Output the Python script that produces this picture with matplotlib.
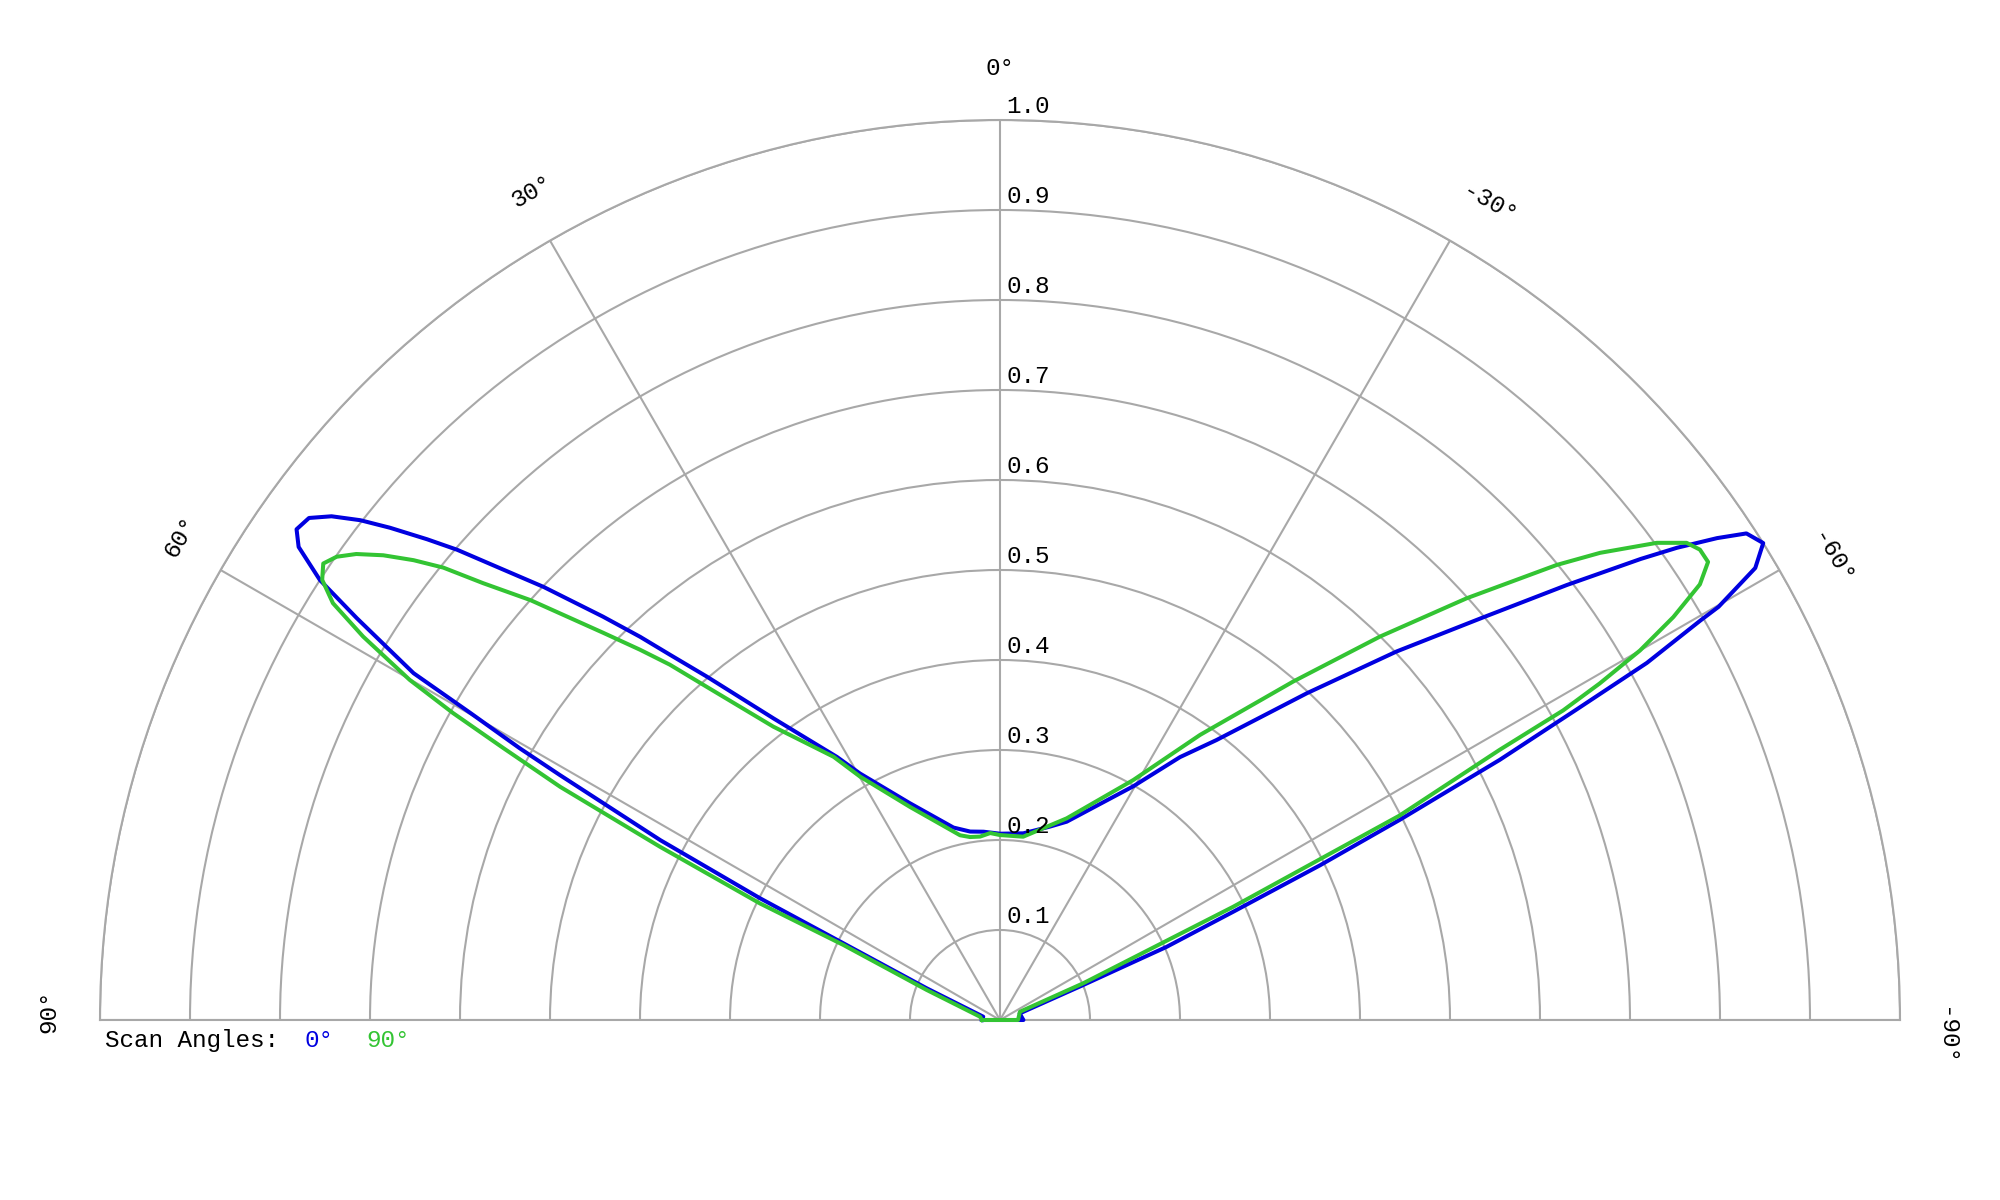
import numpy as np
import matplotlib
matplotlib.use("Agg")
import matplotlib.pyplot as plt

plt.rcParams['font.family'] = ['Liberation Mono', 'DejaVu Sans Mono']

# Scan angle 0 deg (blue): pattern angle (deg, + to the left) and normalised amplitude
theta_0 = [90, 78.8, 66.6, 63.9, 63.1, 62.1, 60.9, 60.5, 59.9, 59.4, 58.0, 57.1, 56.0, 55.1,
           54.0, 53.0, 52.0, 51.1, 50.0, 49.1, 47.8, 46.5, 44.55, 43.2, 42.1, 40.5, 36.9,
           31.8, 29.6, 22.6, 13.6, 9.0, 5.0, 0, -7.1, -14.5, -18.6, -29.7, -34.4, -37.7,
           -43.2, -47.1, -50.2, -52.5, -54.26, -55.1, -56.1, -56.9, -58.0, -59.1,
           -60.1, -60.3, -61.1, -61.7, -62.5, -63.4, -64.2, -65.1, -66.3, -67.2, -71.5, -90]
r_0 = [0.020, 0.019, 0.089, 0.194, 0.299, 0.427, 0.560, 0.613, 0.680, 0.757, 0.843, 0.900,
       0.940, 0.953, 0.949, 0.930, 0.902, 0.871, 0.831, 0.798, 0.745, 0.699, 0.629, 0.584,
       0.547, 0.502, 0.419, 0.344, 0.315, 0.261, 0.220, 0.212, 0.210, 0.207, 0.209, 0.222,
       0.2325, 0.299, 0.354, 0.393, 0.498, 0.6015, 0.699, 0.794, 0.877, 0.917, 0.960,
       0.990, 1.000, 0.978, 0.921, 0.896, 0.821, 0.727, 0.626, 0.497, 0.395, 0.286, 0.202,
       0.100, 0.023, 0.026]

# Scan angle 90 deg (green)
theta_90 = [90, 80.6, 67.7, 64.4, 64.1, 63.0, 62.07, 61.3, 60.7, 60.05, 58.95, 58.0, 57.0,
            56.0, 55.07, 54.1, 53.0, 51.9, 50.9, 49.8, 48.2, 45.7, 44.2, 42.9, 41.35, 37.7,
            32.3, 29.9, 22.9, 12.2, 9.3, 6.2, 3.0, 0, -7.2, -18.3, -29.05, -35.06, -40.9,
            -44.75, -47.9, -50.74, -52.1, -54.0, -55.2, -56.1, -57.1, -58.1,
            -59.1, -60.0, -60.7, -61.2, -61.6, -62.9, -64.1, -66.2, -67.5, -90]
r_90 = [0.020, 0.0225, 0.088, 0.193, 0.2965, 0.424, 0.553, 0.629, 0.697, 0.757, 0.826, 0.874,
        0.898, 0.907, 0.899, 0.883, 0.858, 0.828, 0.797, 0.752, 0.700, 0.616, 0.574, 0.539,
        0.493, 0.412, 0.346, 0.312, 0.257, 0.210, 0.206, 0.205, 0.208, 0.2055, 0.2053, 0.236,
        0.305, 0.387, 0.4975, 0.600, 0.699, 0.799, 0.845, 0.902, 0.929, 0.937,
        0.937, 0.916, 0.872, 0.821, 0.764, 0.714, 0.631, 0.499, 0.288, 0.101, 0.024, 0.020]

r_ticks = [0.1, 0.2, 0.3, 0.4, 0.5, 0.6, 0.7, 0.8, 0.9, 1.0]
r_tick_labels = ['0.1', '0.2', '0.3', '0.4', '0.5', '0.6', '0.7', '0.8', '0.9', '1.0']
theta_ticks = [90, 60, 30, 0, -30, -60, -90]
theta_tick_labels = ['90°', '60°', '30°', '0°', '-30°', '-60°', '-90°']

legend_title = 'Scan Angles:'
series_labels = ['0°', '90°']

BLUE = '#0000e0'
GREEN = '#33c433'
GRID = '#a8a8a8'
FS = 17.5

W, H = 2000, 1200
fig = plt.figure(figsize=(20, 12), dpi=100)
ax = fig.add_axes([0.05, -0.225, 0.90, 1.5], projection='polar')
ax.set_theta_zero_location('N')
ax.set_theta_direction(1)
ax.set_thetamin(-90)
ax.set_thetamax(90)
ax.set_ylim(0, 1.0)

# place the wedge: centre at (1000, 1020) px from top-left, radius 900 px
target_cx, target_cy, target_R = 1000.0, H - 1020.0, 900.0
for _ in range(3):
    fig.canvas.draw()
    c = ax.transData.transform((0, 0))
    t = ax.transData.transform((0, 1.0))
    R = np.hypot(*(t - c))
    pos = ax.get_position()
    s = target_R / R
    x0, y0 = pos.x0 * W, pos.y0 * H
    w, h = pos.width * W, pos.height * H
    nx0 = c[0] - (c[0] - x0) * s
    ny0 = c[1] - (c[1] - y0) * s
    nw, nh = w * s, h * s
    nx0 += target_cx - c[0]
    ny0 += target_cy - c[1]
    ax.set_position([nx0 / W, ny0 / H, nw / W, nh / H])

ax.set_rticks(r_ticks)
ax.set_yticklabels([])
ax.set_thetagrids(theta_ticks, labels=[''] * len(theta_ticks))
ax.grid(True, color=GRID, linewidth=1.5)
for sp in ax.spines.values():
    sp.set_color(GRID)
    sp.set_linewidth(1.5)
ax.tick_params(length=0)

# closed outlines (last point joins back to the first through the origin)
ax.plot(np.radians(theta_0 + theta_0[:1]), r_0 + r_0[:1], color=BLUE, linewidth=2.9,
        solid_joinstyle='round', zorder=3, clip_on=False)
ax.plot(np.radians(theta_90 + theta_90[:1]), r_90 + r_90[:1], color=GREEN, linewidth=2.9,
        solid_joinstyle='round', zorder=4, clip_on=False)

# radial labels along the 0 deg line
for rv, lab in zip(r_ticks, r_tick_labels):
    ax.annotate(lab, xy=(0, rv), xytext=(4.5, 1.5), textcoords='offset points',
                ha='left', va='bottom', fontsize=FS, color='black', zorder=5)

# angular labels, rotated tangentially; text starts about one character before the spoke
for tv, lab in zip(theta_ticks, theta_tick_labels):
    rot = np.radians(tv)
    rr = 1.043 if tv == -90 else 1.05
    if tv == 0:
        ax.text(rot, rr, lab, ha='center', va='baseline', rotation=0,
                fontsize=FS, color='black', clip_on=False)
    else:
        off = (-13 * np.cos(rot), -13 * np.sin(rot))
        ax.annotate(lab, xy=(rot, rr), xytext=off, textcoords='offset pixels',
                    ha='left', va='baseline', rotation=tv, rotation_mode='anchor',
                    fontsize=FS, color='black', annotation_clip=False)

ly = 1 - 1040.5 / H
fig.text(105 / W, ly, legend_title, ha='left', va='center', fontsize=FS, color='black')
fig.text(305 / W, ly, series_labels[0], ha='left', va='center', fontsize=FS, color=BLUE)
fig.text(366 / W, ly, series_labels[1], ha='left', va='center', fontsize=FS, color=GREEN)

fig.savefig('out.png', dpi=100, facecolor='white')
